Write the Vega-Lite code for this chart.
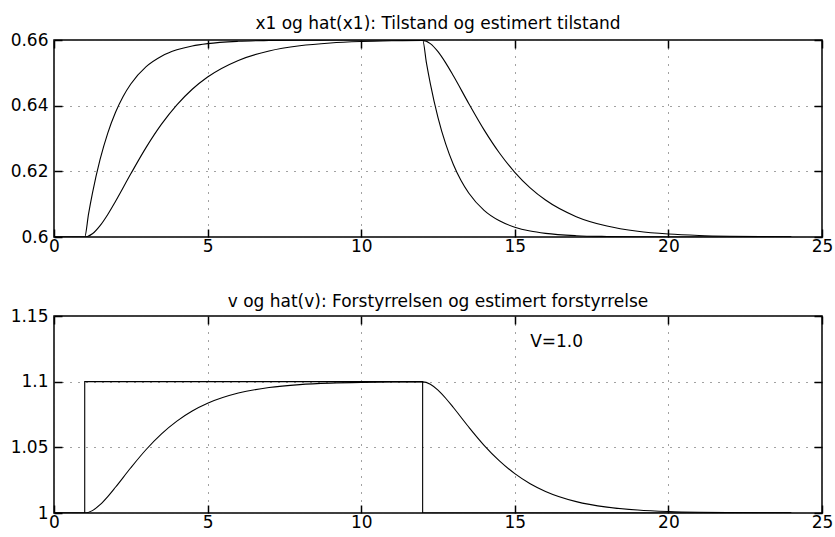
{
  "$schema": "https://vega.github.io/schema/vega-lite/v6.json",
  "padding": {"left": 9, "top": 14, "right": 0, "bottom": 0},
  "spacing": 37,
  "config": {
    "font": "DejaVu Sans",
    "background": "white",
    "view": {"stroke": "black", "strokeWidth": 1.5},
    "axis": {
      "labelFont": "DejaVu Sans", "labelFontSize": 17, "labelColor": "black",
      "tickColor": "black", "tickWidth": 1.5, "tickSize": 8,
      "domain": false, "gridColor": "#444", "gridDash": [1, 7], "gridOpacity": 1, "gridWidth": 1,
      "labelFlush": false, "labelOverlap": false, "labelBound": false, "title": null
    },
    "title": {"fontSize": 17, "fontWeight": "normal", "color": "black", "font": "DejaVu Sans"}
  },
  "datasets": {
    "top": [
      {"s": "a", "t": 0, "y": 0.6}, {"s": "a", "t": 1, "y": 0.6}, {"s": "a", "t": 1.125, "y": 0.60705}, {"s": "a", "t": 1.25, "y": 0.61327},
      {"s": "a", "t": 1.5, "y": 0.62361}, {"s": "a", "t": 1.75, "y": 0.63166}, {"s": "a", "t": 2, "y": 0.63793}, {"s": "a", "t": 2.25, "y": 0.64281},
      {"s": "a", "t": 2.5, "y": 0.64661}, {"s": "a", "t": 3, "y": 0.65188}, {"s": "a", "t": 3.5, "y": 0.65507}, {"s": "a", "t": 4, "y": 0.65701},
      {"s": "a", "t": 4.5, "y": 0.65819}, {"s": "a", "t": 5, "y": 0.6589}, {"s": "a", "t": 6, "y": 0.6596}, {"s": "a", "t": 7, "y": 0.65985},
      {"s": "a", "t": 8, "y": 0.65995}, {"s": "a", "t": 9, "y": 0.65998}, {"s": "a", "t": 10, "y": 0.66}, {"s": "a", "t": 12, "y": 0.66},
      {"s": "a", "t": 12.125, "y": 0.65295}, {"s": "a", "t": 12.25, "y": 0.64673}, {"s": "a", "t": 12.5, "y": 0.63639}, {"s": "a", "t": 12.75, "y": 0.62834},
      {"s": "a", "t": 13, "y": 0.62207}, {"s": "a", "t": 13.25, "y": 0.61719}, {"s": "a", "t": 13.5, "y": 0.61339}, {"s": "a", "t": 14, "y": 0.60812},
      {"s": "a", "t": 14.5, "y": 0.60493}, {"s": "a", "t": 15, "y": 0.60299}, {"s": "a", "t": 15.5, "y": 0.60181}, {"s": "a", "t": 16, "y": 0.6011},
      {"s": "a", "t": 17, "y": 0.6004}, {"s": "a", "t": 18, "y": 0.60015}, {"s": "a", "t": 19, "y": 0.60005}, {"s": "a", "t": 20, "y": 0.60002},
      {"s": "a", "t": 24, "y": 0.6},
      {"s": "b", "t": 0, "y": 0.6}, {"s": "b", "t": 1, "y": 0.6}, {"s": "b", "t": 1.25, "y": 0.60097}, {"s": "b", "t": 1.5, "y": 0.60345},
      {"s": "b", "t": 1.75, "y": 0.60686}, {"s": "b", "t": 2, "y": 0.61081}, {"s": "b", "t": 2.5, "y": 0.61924}, {"s": "b", "t": 3, "y": 0.6273},
      {"s": "b", "t": 3.5, "y": 0.63436}, {"s": "b", "t": 4, "y": 0.64025}, {"s": "b", "t": 4.5, "y": 0.645}, {"s": "b", "t": 5, "y": 0.64873},
      {"s": "b", "t": 6, "y": 0.65378}, {"s": "b", "t": 7, "y": 0.65666}, {"s": "b", "t": 8, "y": 0.65824}, {"s": "b", "t": 9, "y": 0.65909},
      {"s": "b", "t": 10, "y": 0.65953}, {"s": "b", "t": 11, "y": 0.65976}, {"s": "b", "t": 12, "y": 0.65988}, {"s": "b", "t": 12.25, "y": 0.65891},
      {"s": "b", "t": 12.5, "y": 0.65644}, {"s": "b", "t": 12.75, "y": 0.65303}, {"s": "b", "t": 13, "y": 0.6491}, {"s": "b", "t": 13.5, "y": 0.64068},
      {"s": "b", "t": 14, "y": 0.63263}, {"s": "b", "t": 14.5, "y": 0.62559}, {"s": "b", "t": 15, "y": 0.61971}, {"s": "b", "t": 15.5, "y": 0.61497},
      {"s": "b", "t": 16, "y": 0.61125}, {"s": "b", "t": 17, "y": 0.6062}, {"s": "b", "t": 18, "y": 0.60333}, {"s": "b", "t": 19, "y": 0.60175},
      {"s": "b", "t": 20, "y": 0.60091}, {"s": "b", "t": 21, "y": 0.60047}, {"s": "b", "t": 22, "y": 0.60024}, {"s": "b", "t": 23, "y": 0.60012},
      {"s": "b", "t": 24, "y": 0.60006}
    ],
    "hat": [
      {"t": 0, "y": 1}, {"t": 1, "y": 1}, {"t": 1.25, "y": 1.00181}, {"t": 1.5, "y": 1.00633}, {"t": 1.75, "y": 1.01251},
      {"t": 2, "y": 1.01959}, {"t": 2.5, "y": 1.03444}, {"t": 3, "y": 1.04835}, {"t": 3.5, "y": 1.06027}, {"t": 4, "y": 1.06998},
      {"t": 4.5, "y": 1.07766}, {"t": 5, "y": 1.08354}, {"t": 6, "y": 1.09131}, {"t": 7, "y": 1.09553}, {"t": 8, "y": 1.09774},
      {"t": 9, "y": 1.09887}, {"t": 10, "y": 1.09945}, {"t": 11, "y": 1.09973}, {"t": 12, "y": 1.09987}, {"t": 12.25, "y": 1.09806},
      {"t": 12.5, "y": 1.09355}, {"t": 12.75, "y": 1.08738}, {"t": 13, "y": 1.08031}, {"t": 13.5, "y": 1.06547}, {"t": 14, "y": 1.05158},
      {"t": 14.5, "y": 1.03968}, {"t": 15, "y": 1.02998}, {"t": 15.5, "y": 1.02231}, {"t": 16, "y": 1.01644}, {"t": 17, "y": 1.00868},
      {"t": 18, "y": 1.00446}, {"t": 19, "y": 1.00226}, {"t": 20, "y": 1.00112}, {"t": 21, "y": 1.00055}, {"t": 22, "y": 1.00027},
      {"t": 23, "y": 1.00013}, {"t": 24, "y": 1.00006}
    ],
    "step": [
      {"t": 0, "y": 1}, {"t": 1, "y": 1.1}, {"t": 12, "y": 1}, {"t": 24, "y": 1}
    ]
  },
  "vconcat": [
    {
      "width": 768, "height": 197,
      "title": {"text": "x1 og hat(x1): Tilstand og estimert tilstand", "offset": -2},
      "data": {"name": "top"},
      "layer": [
        {
          "mark": {"type": "line", "color": "black", "strokeWidth": 1.1, "interpolate": "monotone", "clip": true},
          "encoding": {
            "x": {"field": "t", "type": "quantitative", "scale": {"domain": [0, 25], "nice": false},
                  "axis": {"orient": "bottom", "values": [0, 5, 10, 15, 20, 25], "grid": true, "ticks": false, "labelPadding": 1}},
            "y": {"field": "y", "type": "quantitative", "scale": {"domain": [0.6, 0.66], "nice": false, "zero": false},
                  "axis": {"orient": "left", "values": [0.6, 0.62, 0.64, 0.66], "format": "~g", "grid": true, "ticks": false, "labelPadding": 6}},
            "detail": {"field": "s"}
          }
        },
        {
          "mark": {"type": "line", "opacity": 0},
          "encoding": {
            "x": {"field": "t", "type": "quantitative", "axis": {"orient": "bottom", "offset": -8, "values": [0, 5, 10, 15, 20, 25], "labels": false, "grid": false, "ticks": true}},
            "y": {"field": "y", "type": "quantitative", "axis": {"orient": "left", "offset": -8, "values": [0.6, 0.62, 0.64, 0.66], "labels": false, "grid": false, "ticks": true}},
            "detail": {"field": "s"}
          }
        },
        {
          "mark": {"type": "line", "opacity": 0},
          "encoding": {
            "x": {"field": "t", "type": "quantitative", "axis": {"orient": "top", "offset": -8, "values": [0, 5, 10, 15, 20, 25], "labels": false, "grid": false, "ticks": true}},
            "y": {"field": "y", "type": "quantitative", "axis": {"orient": "right", "offset": -8, "values": [0.6, 0.62, 0.64, 0.66], "labels": false, "grid": false, "ticks": true}},
            "detail": {"field": "s"}
          }
        }
      ],
      "resolve": {"axis": {"x": "independent", "y": "independent"}}
    },
    {
      "width": 768, "height": 197,
      "title": {"text": "v og hat(v): Forstyrrelsen og estimert forstyrrelse", "offset": -4},
      "layer": [
        {
          "data": {"name": "hat"},
          "mark": {"type": "line", "color": "black", "strokeWidth": 1.1, "interpolate": "monotone", "clip": true},
          "encoding": {
            "x": {"field": "t", "type": "quantitative", "scale": {"domain": [0, 25], "nice": false},
                  "axis": {"orient": "bottom", "values": [0, 5, 10, 15, 20, 25], "grid": true, "ticks": false, "labelPadding": 1}},
            "y": {"field": "y", "type": "quantitative", "scale": {"domain": [1, 1.15], "nice": false, "zero": false},
                  "axis": {"orient": "left", "values": [1, 1.05, 1.1, 1.15], "format": "~g", "grid": true, "ticks": false, "labelPadding": 6}}
          }
        },
        {
          "data": {"name": "step"},
          "mark": {"type": "line", "color": "black", "strokeWidth": 1.1, "interpolate": "step-after", "clip": true},
          "encoding": {
            "x": {"field": "t", "type": "quantitative", "axis": {"orient": "bottom", "offset": -8, "values": [0, 5, 10, 15, 20, 25], "labels": false, "grid": false, "ticks": true}},
            "y": {"field": "y", "type": "quantitative", "axis": {"orient": "left", "offset": -8, "values": [1, 1.05, 1.1, 1.15], "labels": false, "grid": false, "ticks": true}}
          }
        },
        {
          "data": {"name": "step"},
          "mark": {"type": "line", "opacity": 0},
          "encoding": {
            "x": {"field": "t", "type": "quantitative", "axis": {"orient": "top", "offset": -8, "values": [0, 5, 10, 15, 20, 25], "labels": false, "grid": false, "ticks": true}},
            "y": {"field": "y", "type": "quantitative", "axis": {"orient": "right", "offset": -8, "values": [1, 1.05, 1.1, 1.15], "labels": false, "grid": false, "ticks": true}}
          }
        },
        {
          "data": {"values": [{"label": "V=1.0"}]},
          "mark": {"type": "text", "align": "left", "baseline": "middle", "fontSize": 17, "font": "DejaVu Sans", "color": "black"},
          "encoding": {
            "x": {"datum": 15.5, "type": "quantitative", "axis": null},
            "y": {"datum": 1.1304, "type": "quantitative", "axis": null},
            "text": {"field": "label"}
          }
        }
      ],
      "resolve": {"axis": {"x": "independent", "y": "independent"}}
    }
  ]
}
